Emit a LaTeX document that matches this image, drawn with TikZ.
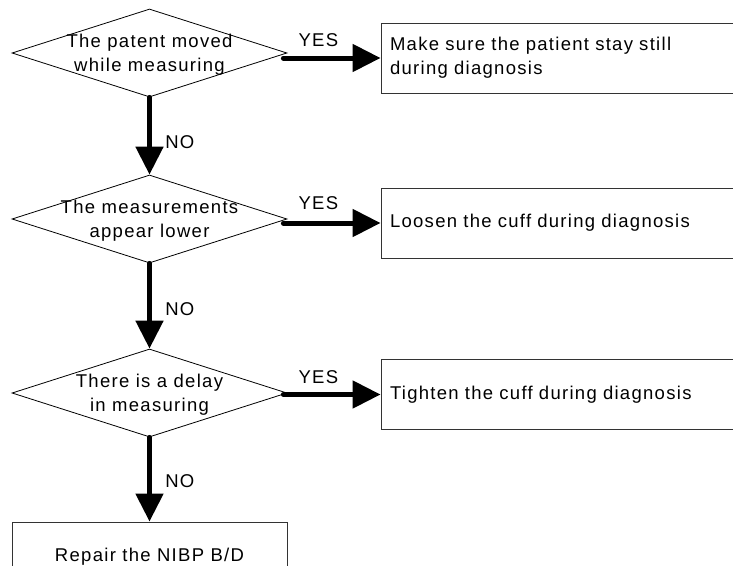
\documentclass[tikz,border=0pt]{standalone}
\usepackage{fontspec}
\setmainfont[LetterSpace=7]{Liberation Sans}
\usepackage{tikz}
\usetikzlibrary{arrows.meta,calc,shapes.geometric}

\begin{document}
\begin{tikzpicture}[x=1pt,y=-1pt,
  every node/.style={font=\fontsize{18.5}{24}\selectfont},
  decision/.style={diamond,draw,line width=0.8pt,minimum width=275pt,minimum height=88pt,inner sep=0pt},
  action/.style={rectangle,draw=black!80,line width=0.9pt,minimum height=70pt,text width=370pt,inner xsep=9pt,align=left},
  repair/.style={rectangle,draw=black!80,line width=0.9pt,minimum height=70pt,minimum width=275pt},
  flow/.style={-{Triangle[length=28pt,width=27pt]},line width=5pt,line cap=round}]
  \useasboundingbox (0,0) rectangle (733,565);
  \clip (0,0) rectangle (733,565);
  % decisions
  \node[decision] (q1) at (149.5,53) {};
  \node[decision] (q2) at (149.5,219) {};
  \node[decision] (q3) at (149.5,393) {};
  \node[align=center] (q1t) at ($(q1)+(0,1.5)$) {The patent moved\\while measuring};
  \node[align=center] (q2t) at ($(q2)+(0,1.5)$) {The measurements\\appear lower};
  \node[align=center] (q3t) at ($(q3)+(0,1.5)$) {There is a delay\\in measuring};
  % actions
  \node[action] (a1) at (575,58) {Make sure the patient stay still\\during diagnosis};
  \node[action] (a2) at (575,223) {Loosen the cuff during diagnosis};
  \node[action] (a3) at (575,394.5) {Tighten the cuff during diagnosis};
  \node[repair] (r1) at (149.5,557) {Repair the NIBP B/D};
  % yes branches
  \draw[flow] ($(q1.east |- a1.west)+(-4,0)$) -- (a1.west) node[pos=0.36,above=5pt] (y1) {YES};
  \draw[flow] ($(q2.east |- a2.west)+(-4,0)$) -- (a2.west) node[pos=0.36,above=7pt] (y2) {YES};
  \draw[flow] ($(q3.east |- a3.west)+(-4,0)$) -- (a3.west) node[pos=0.36,above=5pt] (y3) {YES};
  % no branches
  \draw[flow] (q1.south) -- (q2.north) node[pos=0.58,right=10pt] (n1) {NO};
  \draw[flow] (q2.south) -- (q3.north) node[pos=0.54,right=10pt] (n2) {NO};
  \draw[flow] (q3.south) -- (r1.north) node[pos=0.52,right=10pt] (n3) {NO};
\end{tikzpicture}
\end{document}
